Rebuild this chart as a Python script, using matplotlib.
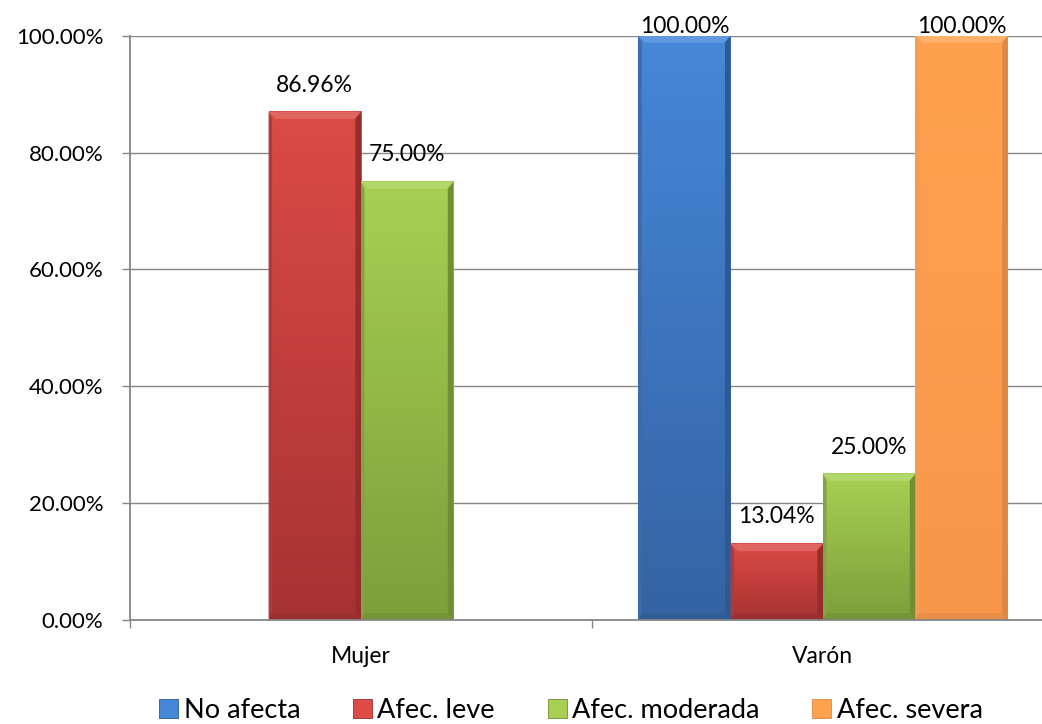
import numpy as np
import matplotlib
matplotlib.use("Agg")
import matplotlib.pyplot as plt
from matplotlib.colors import LinearSegmentedColormap, to_rgb
from matplotlib.patches import Polygon, Patch
from matplotlib.ticker import FixedLocator, PercentFormatter

categories = ["Mujer", "Varón"]
series_names = ["No afecta", "Afec. leve", "Afec. moderada", "Afec. severa"]
no_afecta = [np.nan, 1.0]
afec_leve = [0.8696, 0.1304]
afec_moderada = [0.75, 0.25]
afec_severa = [np.nan, 1.0]
y_ticks = [0.0, 0.2, 0.4, 0.6, 0.8, 1.0]

top_colors = ["#4687D8", "#DC4B46", "#A7D053", "#FFA24F"]
bottom_colors = ["#3463A3", "#A63232", "#7D9E3A", "#F7964A"]

plt.rcParams["font.family"] = ["Lato", "DejaVu Sans"]

GRID = "#868686"


def mix(color, amount):
    # amount > 0 lightens toward white, < 0 darkens toward black
    c = np.array(to_rgb(color))
    if amount >= 0:
        return tuple(c + (1 - c) * amount)
    return tuple(c * (1 + amount))


fig = plt.figure(figsize=(10.42, 7.24), dpi=100)
ax = fig.add_axes([130 / 1042, 104 / 724, 924 / 1042, 584.3 / 724])

values = [no_afecta, afec_leve, afec_moderada, afec_severa]
x = np.arange(len(categories))
width = 0.2
offsets = (np.arange(len(series_names)) - 1.5) * width

# bevel size in data units (about 7 px)
bx = 7 / 462
by = 7 / 584.3

for i, (vals, name) in enumerate(zip(values, series_names)):
    heights = np.nan_to_num(vals)
    bars = ax.bar(x + offsets[i], heights, width, color=top_colors[i],
                  label=name, zorder=2, linewidth=0)
    cmap = LinearSegmentedColormap.from_list(
        name, [bottom_colors[i], top_colors[i]])
    for bar, v in zip(bars, vals):
        if np.isnan(v):
            continue
        x0, y0 = bar.get_x(), bar.get_y()
        x1, y1 = x0 + bar.get_width(), y0 + bar.get_height()
        grad = np.linspace(0, 1, 256).reshape(-1, 1)
        ax.imshow(grad, extent=(x0, x1, y0, y1), origin="lower", cmap=cmap,
                  aspect="auto", zorder=2.1, interpolation="bicubic")
        # bevelled edges
        ax.add_patch(Polygon([(x0, y1), (x1, y1), (x1 - bx, y1 - by),
                              (x0 + bx, y1 - by)],
                             color=mix(top_colors[i], 0.15), lw=0, zorder=2.2))
        ax.add_patch(Polygon([(x1, y1), (x1, y0), (x1 - bx * 0.8, y0 + by),
                              (x1 - bx * 0.8, y1 - by)],
                             color=mix(bottom_colors[i], -0.1), lw=0, zorder=2.2))
        ax.add_patch(Polygon([(x0, y1), (x0, y0), (x0 + bx * 0.5, y0 + by),
                              (x0 + bx * 0.5, y1 - by)],
                             color=mix(bottom_colors[i], 0.05), lw=0, zorder=2.2))
        ax.add_patch(Polygon([(x0, y0), (x1, y0), (x1 - bx * 0.8, y0 + by),
                              (x0 + bx * 0.5, y0 + by)],
                             color=mix(bottom_colors[i], -0.06), lw=0, zorder=2.2))
        ly = min(v + 0.046, 1.015)
        ax.text(x0 + bar.get_width() / 2, ly, f"{v * 100:.2f}%",
                ha="center", va="center", fontsize=16.5, color="black",
                zorder=4, clip_on=False)

ax.set_xlim(-0.5, 1.5)
ax.set_ylim(0, 1)

ax.yaxis.set_major_locator(FixedLocator(y_ticks))
ax.yaxis.set_major_formatter(PercentFormatter(1.0, decimals=2))
ax.yaxis.grid(True, color=GRID, linewidth=1.0, zorder=0)
ax.set_axisbelow(True)
ax.tick_params(axis="y", direction="out", length=6, width=1.0, color=GRID,
               pad=13, labelsize=16)

ax.xaxis.set_major_locator(FixedLocator([-0.5, 0.5, 1.5]))
ax.xaxis.set_major_formatter(plt.NullFormatter())
ax.xaxis.set_minor_locator(FixedLocator(x))
ax.xaxis.set_minor_formatter(plt.FixedFormatter(categories))
ax.tick_params(axis="x", which="major", direction="out", length=6, width=1.0,
               color=GRID)
ax.tick_params(axis="x", which="minor", length=0, pad=19, labelsize=16.5)

for side in ["top", "right"]:
    ax.spines[side].set_visible(False)
for side in ["left", "bottom"]:
    ax.spines[side].set_color(GRID)
    ax.spines[side].set_linewidth(1.3)
    ax.spines[side].set_zorder(5)

handles = [Patch(facecolor=c, edgecolor=mix(b, -0.1), linewidth=0.6)
           for c, b in zip(top_colors, bottom_colors)]
fig.legend(handles, series_names, loc="center", ncol=4,
           bbox_to_anchor=(571 / 1042, 14 / 724), frameon=False,
           fontsize=19.5, handlelength=0.7, handleheight=0.7,
           handletextpad=0.2, columnspacing=1.95)

fig.savefig("out.png", dpi=100)
